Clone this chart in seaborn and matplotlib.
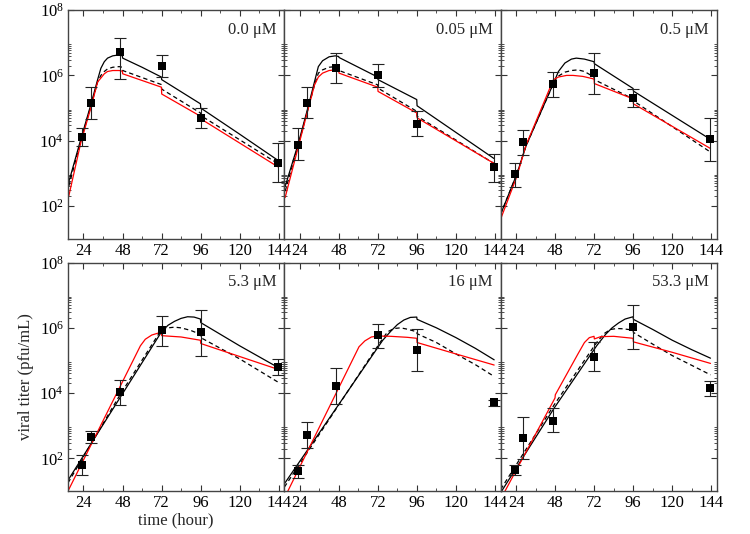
import numpy as np
import pandas as pd
import matplotlib
matplotlib.use("Agg")
import matplotlib.pyplot as plt
import seaborn as sns
from matplotlib.ticker import FixedLocator, NullFormatter, LogFormatterMathtext

# drug concentration of each panel
doses = ["0.0 \u03bcM", "0.05 \u03bcM", "0.5 \u03bcM",
         "5.3 \u03bcM", "16 \u03bcM", "53.3 \u03bcM"]

# measured titers (log10 pfu/mL) with error bar ends
obs_hours = [23, 28.5, 46.5, 72, 96, 143.5]
obs_log = [[4.11, 5.16, 6.71, 6.29, 4.70, 3.33],
           [3.88, 5.17, 6.23, 6.01, 4.51, 3.20],
           [2.97, 3.96, 5.73, 6.07, 5.31, 4.04],
           [1.80, 2.66, 4.02, 5.92, 5.86, 4.81],
           [1.60, 2.71, 4.23, 5.77, 5.32, 3.72],
           [1.64, 2.63, 3.16, 5.12, 6.03, 4.15]]
obs_hi = [[4.39, 5.64, 7.14, 6.62, 4.99, 3.94],
          [4.39, 5.66, 6.68, 6.34, 4.90, 3.58],
          [3.33, 4.34, 6.09, 6.70, 5.58, 4.70],
          [2.09, 2.85, 4.41, 6.36, 6.56, 5.06],
          [1.80, 3.11, 4.78, 6.13, 5.96, 3.80],
          [1.80, 3.27, 3.54, 5.57, 6.71, 4.36]]
obs_lo = [[3.83, 4.67, 5.90, 5.94, 4.39, 2.74],
          [3.40, 4.69, 5.77, 5.64, 4.14, 2.73],
          [2.59, 3.55, 5.34, 5.43, 5.02, 3.38],
          [1.49, 2.46, 3.64, 5.45, 5.14, 4.56],
          [1.39, 2.32, 3.68, 5.39, 4.68, 3.62],
          [1.48, 1.99, 2.80, 4.68, 5.36, 3.92]]

# model curves (hour, log10 titer) per panel
model_solid = [
    [(15, 2.74), (22.4, 4.05), (28.5, 5.1), (32.7, 5.87), (34.7, 6.22), (36.8, 6.42),
     (38.8, 6.53), (42, 6.6), (46, 6.63), (47.9, 6.6), (48.1, 6.53), (60, 6.25),
     (71.9, 5.95), (72.1, 5.87), (84, 5.5), (95.9, 5.13), (96.1, 5.0), (120, 4.2), (143.5, 3.4)],
    [(15, 2.6), (23, 3.9), (29.2, 5.05), (33, 5.8), (35.4, 6.27), (38, 6.45), (42, 6.57),
     (45.8, 6.6), (47.9, 6.58), (48.1, 6.55), (71.9, 5.95), (72.1, 5.87), (95.9, 5.26),
     (96.1, 5.07), (143.5, 3.45)],
    [(14.5, 1.75), (24.4, 2.97), (30, 3.83), (47.5, 5.82), (50, 6.12), (54, 6.38), (58, 6.5),
     (61, 6.53), (66, 6.5), (71.9, 6.42), (72.1, 6.36), (95.9, 5.6), (96.1, 5.52), (143.5, 4.04)],
    [(14.5, 1.33), (72, 5.88), (76, 6.08), (80, 6.2), (84, 6.29), (88, 6.34), (92, 6.33),
     (95.9, 6.27), (96.1, 6.16), (120, 5.45), (143.5, 4.79)],
    [(14.5, 1.22), (75, 5.62), (80, 5.9), (84, 6.1), (88, 6.24), (92, 6.32), (95.9, 6.33),
     (96.1, 6.26), (108, 6.0), (120, 5.7), (132, 5.37), (143.5, 5.02)],
    [(14.5, 0.95), (47.5, 3.55), (73.5, 5.45), (79, 5.8), (83, 6.0), (87, 6.15), (91, 6.27),
     (95.9, 6.34), (96.1, 6.26), (108, 5.95), (120, 5.62), (132, 5.33), (143.5, 5.07)],
]
model_dashed = [
    [(15, 2.61), (22.4, 4.0), (28.5, 5.05), (32.7, 5.8), (34.7, 6.0), (36.8, 6.12),
     (38.8, 6.2), (42, 6.25), (46, 6.27), (47.9, 6.25), (48.1, 6.15), (71.9, 5.72),
     (72.1, 5.58), (95.9, 4.85), (96.1, 4.77), (143.5, 3.3)],
    [(15, 2.45), (23, 3.85), (29.2, 5.0), (33, 5.7), (35.4, 6.07), (38, 6.17), (42, 6.25),
     (46, 6.27), (47.9, 6.26), (48.1, 6.15), (71.9, 5.71), (72.1, 5.61), (95.9, 4.9),
     (96.1, 4.75), (143.5, 3.3)],
    [(14.5, 1.75), (24.4, 2.97), (30, 3.83), (47.5, 5.82), (50, 5.98), (54, 6.1), (58, 6.15),
     (62, 6.17), (66, 6.12), (71.9, 5.95), (72.1, 5.87), (95.9, 5.28), (96.1, 5.22), (143.5, 3.65)],
    [(14.5, 1.25), (46.5, 3.95), (72, 5.95), (76, 6.0), (80, 6.02), (84, 6.0), (90, 5.92),
     (95.9, 5.8), (96.1, 5.7), (120, 5.05), (143.5, 4.34)],
    [(14.5, 1.12), (74, 5.6), (78, 5.88), (82, 5.98), (86, 6.0), (90, 5.96), (95.9, 5.88),
     (96.1, 5.82), (108, 5.55), (120, 5.2), (132, 4.87), (143.5, 4.51)],
    [(14.5, 1.05), (47.5, 3.65), (73.5, 5.55), (78, 5.82), (82, 5.95), (86, 5.98), (90, 5.97),
     (95.9, 5.93), (96.1, 5.86), (108, 5.5), (120, 5.15), (132, 4.85), (143.5, 4.56)],
]
model_red = [
    [(15, 2.31), (22.4, 3.95), (28.5, 5.0), (32.7, 5.8), (34.7, 5.92), (36.8, 6.05),
     (38.8, 6.12), (42, 6.15), (46, 6.15), (47.9, 6.13), (48.1, 6.05), (71.9, 5.64),
     (72.1, 5.43), (95.9, 4.75), (96.1, 4.67), (143.5, 3.2)],
    [(15, 2.26), (23, 3.8), (29.2, 4.98), (33, 5.7), (35.4, 5.95), (38, 6.07), (42, 6.15),
     (46, 6.17), (47.9, 6.16), (48.1, 6.07), (71.9, 5.64), (72.1, 5.51), (95.9, 4.85),
     (96.1, 4.7), (143.5, 3.3)],
    [(14.5, 1.6), (24.4, 2.9), (30, 3.85), (46.9, 5.87), (50, 5.95), (55, 6.0), (59, 6.0),
     (65, 5.97), (71.9, 5.89), (72.1, 5.75), (95.9, 5.28), (96.1, 5.13), (143.5, 3.76)],
    [(14.5, 1.0), (59, 5.45), (62, 5.65), (66, 5.78), (70, 5.84), (71.9, 5.86), (72.1, 5.76),
     (84, 5.72), (95.9, 5.62), (96.1, 5.52), (143.5, 4.73)],
    [(14.5, 0.78), (60.4, 5.42), (64, 5.6), (68, 5.72), (72, 5.75), (80, 5.74), (90, 5.71),
     (95.9, 5.68), (96.1, 5.55), (120, 5.2), (143.5, 4.86)],
    [(14.5, 0.75), (47.9, 3.85), (48.1, 3.95), (62, 5.2), (66, 5.55), (69, 5.7), (71.9, 5.74),
     (72.1, 5.66), (76, 5.73), (84, 5.74), (95.9, 5.68), (96.1, 5.57), (120, 5.25), (143.5, 4.91)],
]

sns.set_style("ticks", {"xtick.direction": "in", "ytick.direction": "in"})
plt.rcParams["font.family"] = ["Liberation Serif", "DejaVu Serif"]
plt.rcParams["mathtext.fontset"] = "stix"

fig, axes = plt.subplots(2, 3, figsize=(7.5, 5.34), dpi=100, sharex=True, sharey=True)
fig.subplots_adjust(left=0.0907, right=0.956, top=0.981, bottom=0.0805,
                    wspace=0, hspace=0.105)

even_minor = [k * 10.0 ** n for n in (0, 2, 4, 6) for k in range(2, 10)]

for i, ax in enumerate(axes.flat):
    rows = []
    for name, curve in (("solid", model_solid[i]), ("dashed", model_dashed[i]),
                        ("red", model_red[i])):
        for h, v in curve:
            rows.append({"hour": h, "titer": 10 ** v, "model": name})
    df = pd.DataFrame(rows)
    sns.lineplot(data=df, x="hour", y="titer", hue="model", style="model",
                 palette={"solid": "black", "dashed": "black", "red": "#ff0000"},
                 dashes={"solid": "", "dashed": (3.5, 2.5), "red": ""},
                 estimator=None, sort=False, linewidth=0.9, legend=False, ax=ax)

    y = 10 ** np.array(obs_log[i])
    lo = 10 ** np.array(obs_lo[i])
    hi = 10 ** np.array(obs_hi[i])
    ax.errorbar(obs_hours, y, yerr=[y - lo, hi - y], fmt="none", ecolor="#222222",
                elinewidth=0.8, capsize=4, capthick=0.8)
    sns.scatterplot(x=obs_hours, y=y, marker="s", s=26, color="black",
                    edgecolor="black", linewidth=0, ax=ax, zorder=5)

    ax.set_yscale("log")
    ax.set_xlim(14.5, 147.5)
    ax.set_ylim(1e1, 1e8)
    ax.xaxis.set_major_locator(FixedLocator([24, 48, 72, 96, 120, 144]))
    ax.xaxis.set_minor_locator(FixedLocator([36, 60, 84, 108, 132]))
    ax.yaxis.set_major_locator(FixedLocator([1e2, 1e4, 1e6, 1e8]))
    ax.yaxis.set_major_formatter(LogFormatterMathtext())
    ax.yaxis.set_minor_locator(FixedLocator(even_minor))
    ax.yaxis.set_minor_formatter(NullFormatter())
    ax.tick_params(which="both", direction="in", top=True, right=True,
                   labelsize=12, colors="#333333", labelcolor="black")
    ax.tick_params(which="major", length=4, width=0.8, pad=3)
    ax.tick_params(which="minor", length=2.5, width=0.6)
    ax.tick_params(axis="x", labelbottom=True)
    for sp in ax.spines.values():
        sp.set_linewidth(1.0)
        sp.set_color("#444444")
    ax.set_xlabel("")
    ax.set_ylabel("")
    ax.text(0.962, 0.915, doses[i], transform=ax.transAxes, ha="right", va="center",
            fontsize=12)

axes[1, 0].set_ylabel("viral titer (pfu/mL)", fontsize=12, labelpad=4)
axes[1, 0].set_xlabel("time (hour)", fontsize=12, labelpad=1)

fig.savefig("out.png", dpi=100)
